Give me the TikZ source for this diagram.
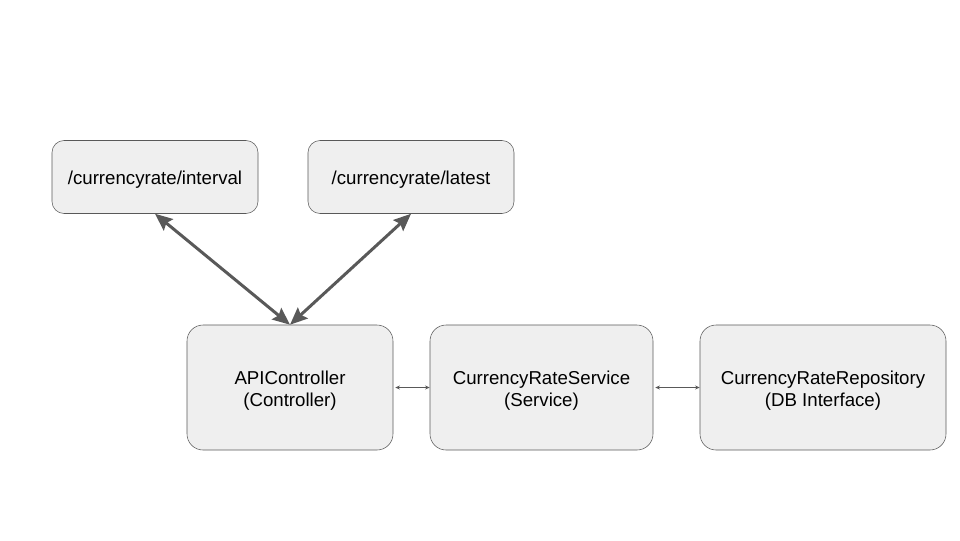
\documentclass[tikz,border=0pt]{standalone}
\usepackage{fontspec}
\setmainfont{Liberation Sans}
\usetikzlibrary{arrows.meta}

\definecolor{boxfill}{HTML}{EFEFEF}
\definecolor{boxline}{HTML}{595959}

% text sits a little below the middle of each box
\newcommand{\boxtext}[1]{\raisebox{-2.5pt}[\height][\depth]{\begin{tabular}{@{}c@{}}#1\end{tabular}}}

\begin{document}
\begin{tikzpicture}[x=0.75pt,y=-0.75pt,
	box/.style={shape=rectangle,draw=boxline,fill=boxfill,inner sep=0pt,font=\fontsize{14}{16.5}\selectfont},
	route/.style={box,rounded corners=9pt,minimum width=154.5pt,minimum height=54.75pt},
	layer/.style={box,rounded corners=12pt,minimum height=93.75pt},
	bigarrow/.style={{Stealth[length=13pt,width=11pt,inset=2pt]}-{Stealth[length=13pt,width=11pt,inset=2pt]}, line width=2.25pt, color=boxline},
	smallarrow/.style={{Stealth[length=3.5pt,width=3pt]}-{Stealth[length=3.5pt,width=3pt]}, line width=0.6pt, color=boxline, shorten <=1.5pt}]

	\useasboundingbox (0,0) rectangle (960,540);

	\node[route] (interval) at (155, 177)   {\boxtext{/currencyrate/interval}};
	\node[route] (latest)   at (411, 177)   {\boxtext{/currencyrate/latest}};
	\node[layer,minimum width=154.5pt] (api)  at (290, 387.5)   {\boxtext{APIController\\(Controller)}};
	\node[layer,minimum width=167.25pt] (svc) at (541.5, 387.5) {\boxtext{CurrencyRateService\\(Service)}};
	\node[layer,minimum width=184.5pt] (repo) at (823, 387.5)   {\boxtext{CurrencyRateRepository\\(DB Interface)}};

	\path[bigarrow] (interval.south) edge (api.north);
	\path[bigarrow] (latest.south) edge (api.north);
	\path[smallarrow] (api) edge (svc);
	\path[smallarrow] (svc) edge (repo);

\end{tikzpicture}
\end{document}
